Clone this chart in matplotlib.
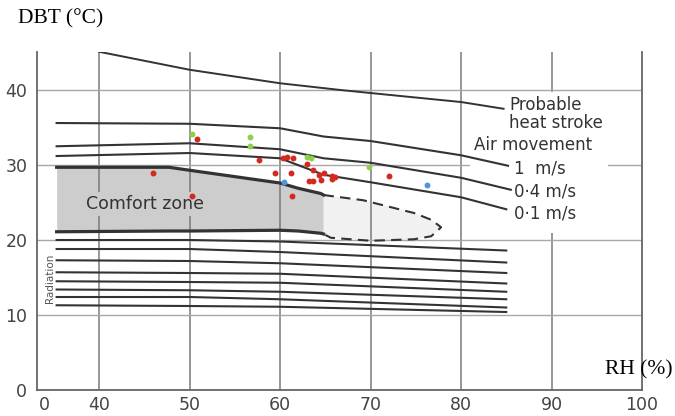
#!/usr/bin/env python3
import matplotlib
matplotlib.use('Agg')
import matplotlib.pyplot as plt
import matplotlib.patches as mpatches
import numpy as np

# ---- data ----
# probable heat stroke line
HEAT_X = [40, 50, 60, 66.7, 70, 80, 84.7]
HEAT_Y = [45.1, 42.7, 40.9, 40.0, 39.6, 38.4, 37.5]

# air movement lines
AIR_X_1  = [35.3, 50, 60, 64.8, 70, 80, 85.2]
AIR_Y_1  = [35.6, 35.5, 34.9, 33.8, 33.2, 31.3, 29.9]
AIR_X_04 = [35.3, 50, 60, 64.8, 70, 80, 85.5]
AIR_Y_04 = [32.5, 32.9, 32.1, 30.9, 30.3, 28.3, 26.7]
AIR_X_01 = [35.3, 50, 60, 64.8, 70, 80, 85.0]
AIR_Y_01 = [31.2, 31.6, 30.9, 28.7, 27.7, 25.7, 24.1]

# comfort zone
COMF_X     = [35.3, 47.7, 50, 60, 62, 64.5, 64.8]
COMF_UPPER = [29.7, 29.7, 29.3, 27.6, 26.9, 26.2, 26.0]
COMF_LOWER = [21.1, 21.2, 21.2, 21.3, 21.2, 20.9, 20.8]
# dashed extension (goes round the tip and back)
EXT_X = [64.8, 69.2, 74.8, 76.7, 77.8, 76.7, 74.8, 70, 65.6, 64.8]
EXT_Y = [26.0, 25.3, 23.6, 22.7, 21.7, 20.5, 20.1, 19.9, 20.3, 20.8]

# radiation lines
RAD_X = [35.3, 50, 60, 85]
RAD_Y = [
    [20.0, 20.0, 19.8, 18.6],
    [18.8, 18.8, 18.4, 17.0],
    [17.3, 17.2, 16.9, 15.6],
    [15.7, 15.6, 15.5, 14.2],
    [14.5, 14.4, 14.3, 13.1],
    [13.4, 13.3, 13.1, 12.1],
    [12.4, 12.4, 12.1, 11.0],
    [11.3, 11.2, 11.1, 10.4],
]

# observed points
RED_RH  = [50.8, 57.7, 46.0, 59.4, 50.3, 60.3, 60.8, 61.4, 63.0, 61.2, 63.6,
           64.3, 64.8, 63.2, 63.6, 64.5, 65.7, 65.7, 66.1, 61.3, 72.0]
RED_DBT = [33.5, 30.7, 29.0, 28.9, 25.9, 30.9, 31.1, 30.9, 30.2, 29.0, 29.4,
           28.7, 29.0, 27.9, 27.9, 28.0, 28.6, 28.2, 28.4, 25.9, 28.5]
GREEN_RH  = [50.3, 56.7, 56.7, 63.0, 63.4, 69.8]
GREEN_DBT = [34.1, 33.8, 32.6, 31.1, 30.9, 29.7]
BLUE_RH  = [60.4, 76.2]
BLUE_DBT = [27.8, 27.4]

X_TICKS  = [34.0, 40, 50, 60, 70, 80, 90, 100]
X_LABELS = ["0", "40", "50", "60", "70", "80", "90", "100"]
Y_TICKS  = [0, 10, 20, 30, 40]
X_GRID = [40, 50, 60, 70, 80, 90]
Y_GRID = [10, 20, 30, 40]

INK = "#333333"
C_RED, C_GREEN, C_BLUE = "#d42a1e", "#8ed04c", "#4f95dd"

fig = plt.figure(figsize=(6.75, 4.16), dpi=100)
ax = fig.add_axes([0.0548, 0.0625, 0.8963, 0.8125])
ax.set_xlim(33.13, 100)
ax.set_ylim(0, 45.07)

# grid through minor ticks so the "0" label gets no grid line
ax.xaxis.remove_overlapping_locs = False
ax.yaxis.remove_overlapping_locs = False
ax.set_xticks(X_TICKS)
ax.set_xticklabels(X_LABELS)
ax.set_yticks(Y_TICKS)
ax.set_xticks(X_GRID, minor=True)
ax.set_yticks(Y_GRID, minor=True)
ax.set_axisbelow(True)
ax.tick_params(which="both", length=0)
ax.tick_params(axis="x", pad=4, labelsize=12.5, labelcolor="#444444")
ax.tick_params(axis="y", pad=7, labelsize=12.5, labelcolor="#444444")
ax.xaxis.grid(True, which="minor", color="#7a7a7a", lw=1.1)
ax.yaxis.grid(True, which="minor", color="#a8a8a8", lw=1.0)
ax.xaxis.grid(False, which="major")
ax.yaxis.grid(False, which="major")

ax.spines["top"].set_visible(False)
for s in ["left", "bottom", "right"]:
    ax.spines[s].set_color("#666666")
    ax.spines[s].set_linewidth(1.3)

# comfort zone fills
ax.fill_between(COMF_X, COMF_LOWER, COMF_UPPER, color="#cdcdcd", lw=0, zorder=0.2)
ax.fill(EXT_X, EXT_Y, color="#f1f1f1", lw=0, zorder=0.2)

# white box behind the right-hand labels
ax.add_patch(mpatches.Rectangle((81.0, 20.9), 15.2, 18.9, transform=ax.transData,
                                facecolor="white", edgecolor="none", zorder=0.6))

ax.plot(HEAT_X, HEAT_Y, color=INK, lw=1.4, zorder=2)
for xs, ys in [(AIR_X_1, AIR_Y_1), (AIR_X_04, AIR_Y_04), (AIR_X_01, AIR_Y_01)]:
    ax.plot(xs, ys, color=INK, lw=1.5, zorder=2)

ax.plot(COMF_X, COMF_UPPER, color=INK, lw=2.3, zorder=2)
ax.plot(COMF_X, COMF_LOWER, color=INK, lw=2.3, zorder=2)
ax.plot(EXT_X, EXT_Y, color=INK, lw=1.5, ls=(0, (5, 3)), zorder=2)

for ys in RAD_Y:
    ax.plot(RAD_X, ys, color=INK, lw=1.5, zorder=2)

# labels
lbl = dict(color=INK, fontsize=12, family="DejaVu Sans", va="center", ha="left", zorder=3)
ax.text(85.3, 36.8, "Probable\nheat stroke", linespacing=0.95, **lbl)
ax.text(81.4, 32.7, "Air movement", **lbl)
ax.text(85.85, 29.6, "1  m/s", **lbl)
ax.text(85.85, 26.5, "0\u00b74 m/s", **lbl)
ax.text(85.85, 23.5, "0\u00b71 m/s", **lbl)
ax.text(38.5, 24.8, "Comfort zone", color=INK, fontsize=12.5, va="center", ha="left",
        zorder=3, bbox=dict(facecolor="#cdcdcd", edgecolor="none", pad=2))
ax.text(34.6, 14.9, "Radiation", rotation=90, color="#555555", fontsize=7.5,
        va="center", ha="center", zorder=3)

# points
ax.scatter(RED_RH, RED_DBT, s=18, color=C_RED, lw=0, zorder=4)
ax.scatter(GREEN_RH, GREEN_DBT, s=18, color=C_GREEN, lw=0, zorder=4)
ax.scatter(BLUE_RH, BLUE_DBT, s=18, color=C_BLUE, lw=0, zorder=4)

# axis titles
fig.text(0.027, 0.954, "DBT (\u00b0C)", family="Liberation Serif", fontsize=15.5,
         va="center", ha="left", color="black")
fig.text(0.896, 0.111, "RH (%)", family="Liberation Serif", fontsize=15.5,
         va="center", ha="left", color="black")

fig.savefig("out.png", dpi=100)
